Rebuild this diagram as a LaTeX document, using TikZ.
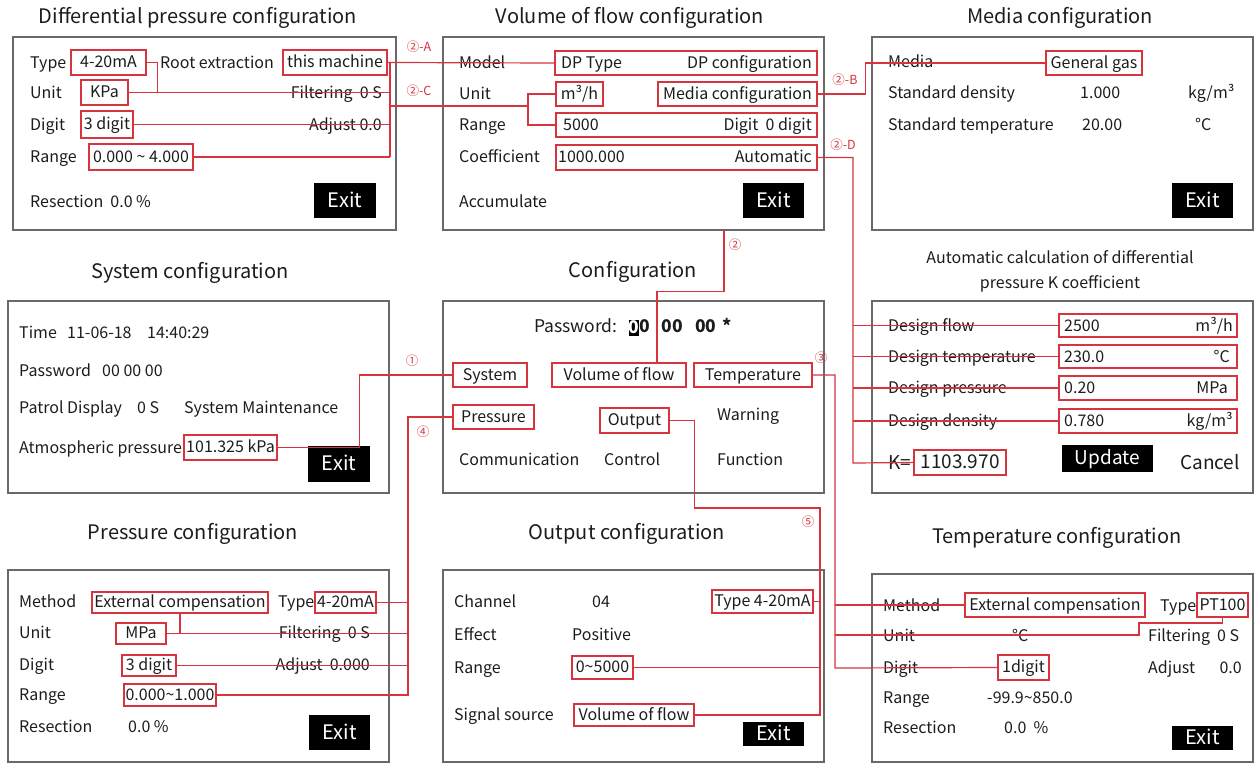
\documentclass[tikz,border=0pt]{standalone}
\usepackage{fontspec}
\setmainfont{Noto Sans CJK SC}
\usetikzlibrary{calc}

\definecolor{lnred}{RGB}{214,52,62}
\definecolor{frgray}{RGB}{105,105,105}
\definecolor{txt}{RGB}{28,28,28}

\tikzset{
  f16/.style={font=\fontsize{16}{19}\selectfont, text height=12.5pt, text depth=2pt},
  f18/.style={font=\fontsize{17.5}{21}\selectfont, text height=13.7pt, text depth=2.2pt},
  f19/.style={font=\fontsize{19}{22}\selectfont, text height=14.8pt, text depth=2.3pt},
  f20/.style={font=\fontsize{20}{24}\selectfont, text height=15.6pt, text depth=2.4pt},
  panel/.style={draw=frgray, line width=1.5pt},
  ptitle/.style={f20, text=txt, inner sep=0pt},
  lbl/.style={f16, text=txt, inner sep=0pt, anchor=west},
  lblr/.style={lbl, anchor=east},
  rb/.style 2 args={draw=lnred, line width=1.2pt, f16, text=txt, inner sep=0pt, minimum width=#1, minimum height=#2},
  rline/.style={draw=lnred, line width=1.2pt},
  exitbtn/.style={fill=black, text=white, f20, inner sep=0pt},
  cnum/.style={text=lnred, font=\fontsize{12.5}{14}\selectfont, text height=9pt, text depth=1.5pt, inner sep=0pt}
}

\begin{document}
\begin{tikzpicture}[x=1pt, y=-1pt]
\useasboundingbox (0,0) rectangle (1255,763);

\draw[panel] (13,37) rectangle (396,230);
\node[ptitle] (dptitle) at (198,17) {Differential pressure configuration};
\node[lbl] at (30,63) {Type};
\node[rb={75}{25}] (dptype) at (108.5,62.5) {4-20mA};
\node[lbl] at (160,63) {Root extraction};
\node[rb={104}{25}] (dpmach) at (335,62.5) {this machine};
\node[lbl] at (30,93) {Unit};
\node[rb={47}{25}] (dpunit) at (104.5,92.5) {KPa};
\node[lblr] at (382,93) {Filtering\ \ 0 S};
\node[lbl] at (30,125) {Digit};
\node[rb={52}{27}] (dpdigit) at (107,124.5) {3 digit};
\node[lblr] at (382,125) {Adjust 0.0};
\node[lbl] at (30,157) {Range};
\node[rb={104}{26}] (dprange) at (141,157) {0.000 \textasciitilde{} 4.000};
\node[lbl] at (30,202) {Resection\ \ 0.0 \%};
\node[exitbtn, minimum width=62, minimum height=35] (dpexit) at (345,200.5) {Exit};

\draw[panel] (443,37) rectangle (824,230);
\node[ptitle] (vftitle) at (630,17) {Volume of flow configuration};
\node[lbl] at (459,63) {Model};
\node[rb={262}{24}] (vfmodel) at (686,63) {};
\node[lbl] at (561,63) {DP Type};
\node[lblr] at (812,63) {DP configuration};
\node[lbl] at (459,94) {Unit};
\node[rb={47}{24}] (vfunit) at (579.5,94) {m³/h};
\node[rb={159}{24}] (vfmedia) at (737.5,94) {Media configuration};
\node[lbl] at (459,125) {Range};
\node[rb={261}{24}] (vfrange) at (686.5,125) {};
\node[lbl] at (563,125) {5000};
\node[lblr] at (812,125) {Digit\ \ 0 digit};
\node[lbl] at (459,157) {Coefficient};
\node[rb={261}{25}] (vfcoef) at (686.5,157.5) {};
\node[lbl] at (558,157) {1000.000};
\node[lblr] at (812,157) {Automatic};
\node[lbl] at (459,202) {Accumulate};
\node[exitbtn, minimum width=61, minimum height=35] (vfexit) at (773.5,200.5) {Exit};

\draw[panel] (872,37) rectangle (1253,230);
\node[ptitle] (mdtitle) at (1060,17) {Media configuration};
\node[lbl] at (888,62) {Media};
\node[rb={96}{24}] (mdgas) at (1094,63) {General gas};
\node[lbl] at (888,93) {Standard density};
\node[lbl] at (1080,93) {1.000};
\node[lbl] at (1188,93) {kg/m³};
\node[lbl] at (888,125) {Standard temperature};
\node[lbl] at (1082,125) {20.00};
\node[lbl] at (1195,125) {°C};
\node[exitbtn, minimum width=61, minimum height=35] (mdexit) at (1202.5,200.5) {Exit};

\draw[panel] (8,301) rectangle (389,493);
\node[ptitle] (sytitle) at (190,272) {System configuration};
\node[lbl] at (19,333) {Time};
\node[lbl] at (67,333) {11-06-18};
\node[lbl] at (147,333) {14:40:29};
\node[lbl] at (19,371) {Password};
\node[lbl] at (102,371) {00 00 00};
\node[lbl] at (19,408) {Patrol Display};
\node[lbl] at (137,408) {0 S};
\node[lbl] at (184,408) {System Maintenance};
\node[lbl] at (19,448) {Atmospheric pressure};
\node[rb={93}{25}] (syatm) at (230.5,447.5) {101.325 kPa};
\node[exitbtn, minimum width=62, minimum height=36] (syexit) at (339,464) {Exit};

\draw[panel] (443,301) rectangle (824,493);
\node[ptitle] (cftitle) at (633,271) {Configuration};
\node[lbl, f18] (cfpass) at (534,327) {Password:};
\node[fill=black, text=white, f18, font=\fontsize{17.5}{21}\selectfont\bfseries, inner sep=0pt, minimum width=10, minimum height=14] (cfcur) at (634,328) {0};
\node[lbl, f18, font=\fontsize{17.5}{21}\selectfont\bfseries] (cfdig) at (639,327) {0\hspace{12pt}00\hspace{12pt}00\hspace{6pt}*};
\node[rb={74}{24}] (cfsys) at (490,375) {System};
\node[rb={134}{24}] (cfvol) at (619,375) {Volume of flow};
\node[rb={118}{24}] (cftemp) at (753,375) {Temperature};
\node[rb={81}{24}] (cfpress) at (493.5,417) {Pressure};
\node[rb={69}{25}] (cfout) at (634.5,420.5) {Output};
\node[lbl] at (717,415) {Warning};
\node[lbl] at (459,460) {Communication};
\node[lbl] at (604,460) {Control};
\node[lbl] at (717,460) {Function};

\draw[panel] (872,301) rectangle (1253,493);
\node[text=txt, inner sep=0pt, font=\fontsize{16}{25}\selectfont, align=center] (kctitle) at (1060,271) {Automatic calculation of differential\\pressure K coefficient};
\node[lbl] at (888,326) {Design flow};
\node[rb={178}{23}] (kflow) at (1148,325.5) {};
\node[lbl] at (1064,326) {2500};
\node[lblr] at (1233,326) {m³/h};
\node[lbl] at (888,357) {Design temperature};
\node[rb={178}{23}] (ktemp) at (1148,356.5) {};
\node[lbl] at (1064,357) {230.0};
\node[lblr] at (1230,357) {°C};
\node[lbl] at (888,388) {Design pressure};
\node[rb={178}{24}] (kpres) at (1148,388) {};
\node[lbl] at (1064,388) {0.20};
\node[lblr] at (1228,388) {MPa};
\node[lbl] at (888,421) {Design density};
\node[rb={178}{24}] (kdens) at (1148,421) {};
\node[lbl] at (1064,421) {0.780};
\node[lblr] at (1233,421) {kg/m³};
\node[lbl, f19] at (888,463) {K=};
\node[rb={92}{25}, f19] (kval) at (960,462.5) {1103.970};
\node[exitbtn, f19, minimum width=91, minimum height=27] (kupd) at (1107.5,458.5) {Update};
\node[lbl, f19] at (1180,463) {Cancel};

\draw[panel] (8,570) rectangle (389,762);
\node[ptitle] (prtitle) at (193,533) {Pressure configuration};
\node[lbl] at (19,602) {Method};
\node[rb={176}{21}] (prmeth) at (180,602.5) {External compensation};
\node[lbl] at (278,602) {Type};
\node[rb={61}{21}] (prtype) at (345.5,602.5) {4-20mA};
\node[lbl] at (19,633) {Unit};
\node[rb={50}{21}] (prunit) at (141,633.5) {MPa};
\node[lblr] at (370,633) {Filtering\ \ 0 S};
\node[lbl] at (19,665) {Digit};
\node[rb={54}{21}] (prdigit) at (149,665.5) {3 digit};
\node[lblr] at (370,665) {Adjust\ \ 0.000};
\node[lbl] at (19,695) {Range};
\node[rb={92}{22}] (prrange) at (170,695) {0.000\textasciitilde 1.000};
\node[lbl] at (19,727) {Resection};
\node[lbl] at (128,727) {0.0 \%};
\node[exitbtn, minimum width=61, minimum height=35] (prexit) at (339.5,732.5) {Exit};

\draw[panel] (443,570) rectangle (824,762);
\node[ptitle] (optitle) at (627,533) {Output configuration};
\node[lbl] at (454,602) {Channel};
\node[lbl] at (592,602) {04};
\node[rb={101}{23}] (optype) at (762.5,601.5) {Type 4-20mA};
\node[lbl] at (454,635) {Effect};
\node[lbl] at (572,635) {Positive};
\node[lbl] at (454,668) {Range};
\node[rb={61}{23}] (oprange) at (602.5,667.5) {0\textasciitilde 5000};
\node[lbl] at (454,715) {Signal source};
\node[rb={120}{22}] (opsrc) at (634,715) {Volume of flow};
\node[exitbtn, minimum width=61, minimum height=24] (opexit) at (773.5,734) {Exit};

\draw[panel] (872,574) rectangle (1253,762);
\node[ptitle] (tptitle) at (1057,537) {Temperature configuration};
\node[lbl] at (883,606) {Method};
\node[rb={180}{24}] (tpmeth) at (1055,605) {External compensation};
\node[lbl] at (1160,606) {Type};
\node[rb={51}{24}] (tptype) at (1222.5,605) {PT100};
\node[lbl] at (883,636) {Unit};
\node[lbl] at (1012,636) {°C};
\node[lbl] at (1148,636) {Filtering\ \ 0 S};
\node[lbl] at (883,668) {Digit};
\node[rb={51}{25}] (tpdigit) at (1023.5,667.5) {1digit};
\node[lbl] at (1148,668) {Adjust};
\node[lblr] at (1242,668) {0.0};
\node[lbl] at (883,698) {Range};
\node[lbl] at (987,698) {-99.9\textasciitilde 850.0};
\node[lbl] at (883,728) {Resection};
\node[lbl] at (1004,728) {0.0\ \ \%};
\node[exitbtn, minimum width=61, minimum height=24] (tpexit) at (1202.5,738) {Exit};

\coordinate (dpbus) at (390,106);
\coordinate (vfjoin) at (528,106);
\coordinate (vfbot) at (724,230);
\coordinate (kbus) at (853,463);
\coordinate (tpbus) at (835,668);
\coordinate (tpunit) at (1139,635);
\coordinate (prbus) at (408,695);
\coordinate (opturn) at (820,508);
\coordinate (opbus) at (820,715);

\draw[rline] (syatm.east) -- ++(82,0) |- (cfsys.west);
\draw[rline] ($(cfvol.north)+(38,0)$) -- ++(0,-71) -| (vfbot);
\draw[rline] (dpmach.east) -- (vfmodel.west);
\draw[rline] (dptype.east) -- ++(11,0) |- (dpunit.east);
\draw[rline] (dpunit.east) -- (dpunit.east -| dpbus);
\draw[rline] (dpmach.east -| dpbus) -- (dprange.east -| dpbus);
\foreach \r in {dpdigit,dprange} \draw[rline] (\r.east) -- (\r.east -| dpbus);
\draw[rline] (dpbus) -- (vfjoin);
\draw[rline] (vfunit.west) -| (vfjoin) |- (vfrange.west);
\draw[rline] (vfmedia.east) -- ++(48,0) |- (mdgas.west);
\draw[rline] (vfcoef.east) -| (kbus) -- (kval.west);
\foreach \r in {kflow,ktemp,kpres,kdens} \draw[rline] (kbus |- \r.west) -- (\r.west);
\draw[rline] (cftemp.east) -| (tpbus) -- (tpdigit.west);
\draw[rline] (tpbus |- tpmeth.west) -- (tpmeth.west);
\draw[rline] (tpbus |- tpunit) -- (tpunit) -- ++(0,-12) -| (tptype.south);
\draw[rline] (cfpress.west) -| (prbus) -- (prrange.east);
\foreach \r in {prtype,prunit,prdigit} \draw[rline] (\r.east) -- (\r.east -| prbus);
\draw[rline] (prmeth.south) -- (prmeth.south |- prunit.east);
\draw[rline] (cfout.east) -- ++(25,0) |- (opturn) -- (opbus) -- (opsrc.east);
\foreach \r in {optype,oprange} \draw[rline] (\r.east) -- (\r.east -| opbus);

\node[cnum] (n1) at (412,362) {①};
\node[cnum] (n2) at (735,246) {②};
\node[cnum] (n3) at (821,359) {③};
\node[cnum] (n4) at (423,433) {④};
\node[cnum] (n5) at (808,523) {⑤};
\node[cnum] (n2a) at (419,48) {②-A};
\node[cnum] (n2b) at (845,81) {②-B};
\node[cnum] (n2c) at (419,92) {②-C};
\node[cnum] (n2d) at (843,146) {②-D};
\end{tikzpicture}
\end{document}
